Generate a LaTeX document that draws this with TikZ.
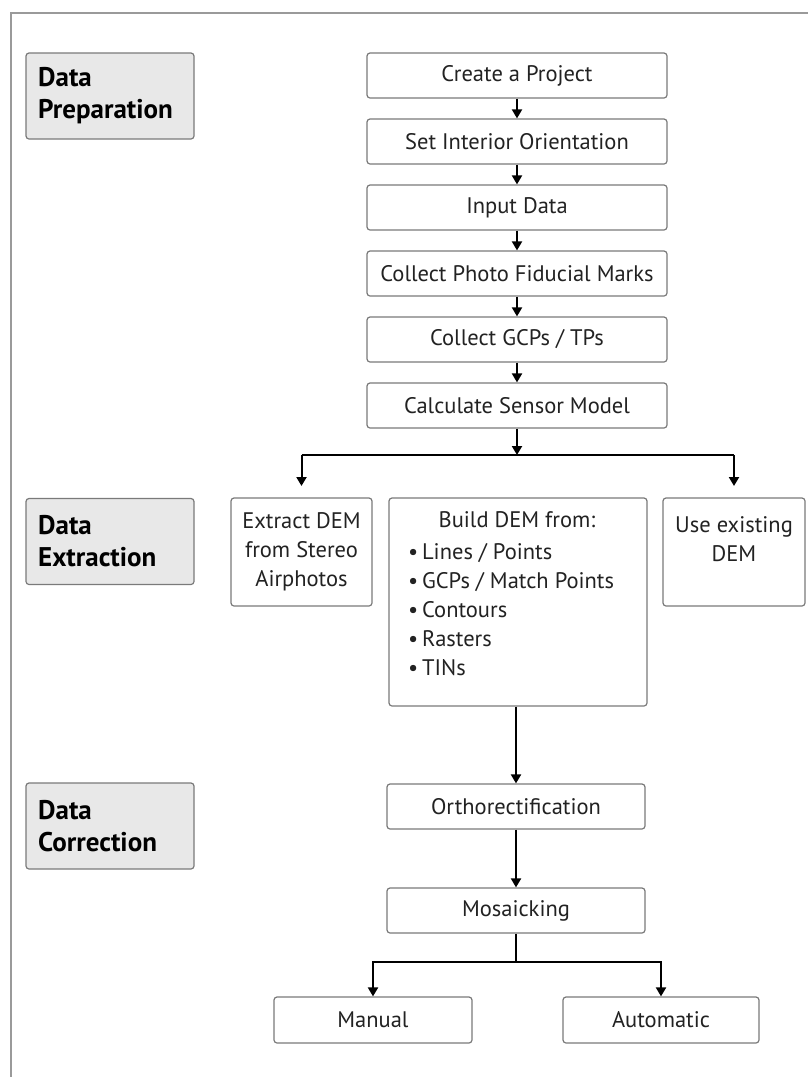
\documentclass[tikz,border=0pt]{standalone}
\usepackage{fontspec}
\setmainfont{PT Sans}
\usetikzlibrary{arrows.meta,calc}
\definecolor{framegray}{HTML}{9A9A9A}
\definecolor{boxgray}{HTML}{7A7A7A}
\definecolor{labelfill}{HTML}{E8E8E8}
\definecolor{txt}{HTML}{222222}
\tikzset{
  stepbox/.style={draw=boxgray, line width=1.2pt, rounded corners=3pt, fill=white,
    minimum width=300pt, minimum height=45pt, inner sep=0pt, text=txt,
    font=\fontsize{22.5}{29}\selectfont},
  labelbox/.style={draw=boxgray, line width=1.2pt, rounded corners=3pt, fill=labelfill,
    minimum width=168pt, minimum height=86pt, inner sep=0pt},
  labeltext/.style={anchor=west, align=left, text=black, inner sep=0pt,
    font=\fontsize{27}{32}\selectfont\bfseries},
  plain/.style={inner sep=0pt, text=txt, font=\fontsize{22.5}{29}\selectfont},
  conn/.style={line width=2pt, draw=black},
  arr/.style={conn, -{Triangle[width=10pt,length=9pt]}},
}
\begin{document}
\begin{tikzpicture}[x=1pt,y=-1pt]
\useasboundingbox (0,0) rectangle (808,1077);
% frame
\draw[framegray, line width=2pt] (11,1077) -- (11,13) -- (808,13);

% stage labels
\node[labelbox] (prep) at (110,96) {};
\node[labeltext] (preptext) at (38,96) {Data\\Preparation};
\node[labelbox] (extr) at (110,541.5) {};
\node[labeltext] (extrtext) at (38,541) {Data\\Extraction};
\node[labelbox] (corr) at (110,826) {};
\node[labeltext] (corrtext) at (38,826) {Data\\Correction};

% main column
\node[stepbox] (c1) at (517,75.5) {Create a Project};
\node[stepbox] (c2) at (517,141.5) {Set Interior Orientation};
\node[stepbox] (c3) at (517,207.5) {Input Data};
\node[stepbox] (c4) at (517,273.5) {Collect Photo Fiducial Marks};
\node[stepbox] (c5) at (517,339.5) {Collect GCPs / TPs};
\node[stepbox] (c6) at (517,405.5) {Calculate Sensor Model};

\draw[arr] (c1) -- (c2);
\draw[arr] (c2) -- (c3);
\draw[arr] (c3) -- (c4);
\draw[arr] (c4) -- (c5);
\draw[arr] (c5) -- (c6);

% extraction
\node[stepbox, minimum width=141pt, minimum height=108pt, align=center] (extract) at (301.5,552) {Extract DEM\\from Stereo\\Airphotos};
\node[stepbox, minimum width=258pt, minimum height=208pt] (build) at (518,602) {};
\node[plain] (buildhead) at (517,520) {Build DEM from:};
\node[plain, anchor=north west, align=left] (buildlist) at (408,543)
  {\textbullet\,Lines / Points\\\textbullet\,GCPs / Match Points\\\textbullet\,Contours\\\textbullet\,Rasters\\\textbullet\,TINs};
\node[stepbox, minimum width=142pt, minimum height=108pt] (use) at (734,552) {};
\node[plain, align=center] (usetext) at (734,539.5) {Use existing\\DEM};

\coordinate (J) at (517,455);
\coordinate (L) at (301.5,455);
\coordinate (R) at (734,455);
\coordinate (Lt) at (301.5,486);
\coordinate (Rt) at (734,486);
\draw[arr] (c6) -- (J);
\draw[conn] (L) -- (R);
\draw[arr] (L) -- (Lt);
\draw[arr] (R) -- (Rt);

% correction
\node[stepbox, minimum width=258pt] (ortho) at (516,806.5) {Orthorectification};
\node[stepbox, minimum width=258pt] (mosaic) at (516,910.5) {Mosaicking};
\node[stepbox, minimum width=198pt, minimum height=46pt] (manual) at (373,1020) {Manual};
\node[stepbox, minimum width=196pt, minimum height=46pt] (auto) at (661,1020) {Automatic};

\draw[arr] (build.south -| ortho.north) -- (ortho);
\draw[arr] (ortho) -- (mosaic);
\coordinate (K) at (516,962);
\draw[conn] (mosaic) -- (K);
\draw[arr] (K) -| (manual);
\draw[arr] (K) -| (auto);
\end{tikzpicture}
\end{document}
